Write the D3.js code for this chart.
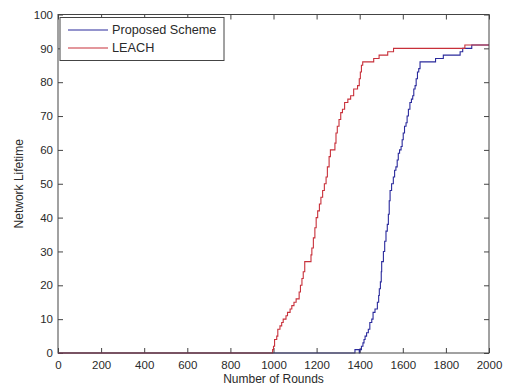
<!DOCTYPE html>
<html>
<head>
<meta charset="utf-8">
<script src="https://cdn.jsdelivr.net/npm/d3@7/dist/d3.min.js"></script>
<style>
  html, body { margin: 0; padding: 0; background: #fff; }
  svg { display: block; }
  text { font-family: "Liberation Sans", Arial, sans-serif; fill: #2a2a2a; }
</style>
</head>
<body>
<svg id="chart" width="505" height="389"></svg>
<script>
// ---- data ----
const seriesNames = ["Proposed Scheme", "LEACH"];
const seriesColors = ["#2a2a9c", "#c8303a"];

const proposedRounds = [0, 1378, 1398, 1400, 1408, 1415, 1420, 1425, 1432, 1440, 1447, 1456, 1462, 1471, 1482, 1488, 1491, 1496, 1500, 1502, 1510, 1516, 1522, 1528, 1533, 1537, 1541, 1548, 1556, 1562, 1568, 1574, 1579, 1585, 1592, 1597, 1602, 1608, 1615, 1620, 1626, 1633, 1640, 1646, 1651, 1657, 1662, 1668, 1674, 1680, 1752, 1788, 1866, 1878, 1920, 2000];
const proposedValues = [0, 1, 0, 1, 2, 3, 4, 5, 6, 7, 9, 10, 12, 13, 15, 17, 19, 21, 24, 27, 30, 33, 36, 38, 41, 45, 48, 50, 52, 54, 55, 57, 59, 60, 61, 63, 65, 67, 68, 70, 72, 74, 75, 76, 78, 79, 81, 83, 84, 86, 87, 88, 89, 90, 91, 91];

const leachRounds = [0, 996, 1000, 1005, 1015, 1020, 1030, 1038, 1045, 1058, 1065, 1077, 1085, 1095, 1105, 1119, 1125, 1132, 1138, 1145, 1174, 1178, 1185, 1192, 1198, 1205, 1213, 1220, 1228, 1236, 1244, 1250, 1258, 1264, 1285, 1290, 1296, 1304, 1312, 1320, 1330, 1345, 1358, 1372, 1390, 1398, 1403, 1408, 1414, 1465, 1490, 1530, 1557, 1888, 2000];
const leachValues = [0, 1, 2, 4, 5, 7, 8, 9, 10, 11, 12, 13, 14, 15, 16, 18, 20, 22, 24, 27, 29, 31, 34, 37, 40, 42, 44, 46, 48, 50, 52, 55, 58, 60, 62, 65, 67, 69, 71, 72, 74, 75, 76, 78, 79, 81, 83, 85, 86, 87, 88, 89, 90, 91, 91];

const xTicks = [0, 200, 400, 600, 800, 1000, 1200, 1400, 1600, 1800, 2000];
const yTicks = [0, 10, 20, 30, 40, 50, 60, 70, 80, 90, 100];
const xLabel = "Number of Rounds";
const yLabel = "Network Lifetime";

// ---- layout ----
const W = 505, H = 389;
const m = { left: 58, right: 16, top: 14.5, bottom: 36 };
const iw = W - m.left - m.right, ih = H - m.top - m.bottom;

const svg = d3.select("#chart");
const g = svg.append("g").attr("transform", `translate(${m.left},${m.top})`);

const x = d3.scaleLinear().domain([0, 2000]).range([0, iw]);
const y = d3.scaleLinear().domain([0, 100]).range([ih, 0]);

const axisColor = "#444";

// axes
const gx = g.append("g").attr("transform", `translate(0,${ih})`)
  .call(d3.axisBottom(x).tickValues(xTicks).tickSizeInner(-5).tickSizeOuter(0).tickPadding(8).tickFormat(d3.format("d")));
const gy = g.append("g")
  .call(d3.axisLeft(y).tickValues(yTicks).tickSizeInner(-5).tickSizeOuter(0).tickPadding(5).tickFormat(d3.format("d")));
const gt = g.append("g")
  .call(d3.axisTop(x).tickValues(xTicks).tickSizeInner(-5).tickSizeOuter(0).tickFormat(""));
const gr = g.append("g").attr("transform", `translate(${iw},0)`)
  .call(d3.axisRight(y).tickValues(yTicks).tickSizeInner(-5).tickSizeOuter(0).tickFormat(""));

[gx, gy, gt, gr].forEach(a => {
  a.select(".domain").remove();
  a.selectAll(".tick line").attr("stroke", axisColor);
  a.selectAll(".tick text").attr("font-size", 11.5).attr("fill", "#2a2a2a")
    .attr("font-family", "Liberation Sans, Arial, sans-serif");
});

// series
const series = [
  proposedRounds.map((r, i) => [r, proposedValues[i]]),
  leachRounds.map((r, i) => [r, leachValues[i]])
];
const line = d3.line().x(d => x(d[0])).y(d => y(d[1])).curve(d3.curveStepAfter);
series.forEach((s, i) => {
  g.append("path").datum(s)
    .attr("fill", "none")
    .attr("stroke", seriesColors[i])
    .attr("stroke-width", 1.1)
    .attr("d", line);
});

// frame
g.append("rect").attr("x", 0).attr("y", 0).attr("width", iw).attr("height", ih)
  .attr("fill", "none").attr("stroke", axisColor).attr("stroke-width", 1);

// legend
const lg = g.append("g").attr("transform", "translate(2,3)");
lg.append("rect").attr("x", 0).attr("y", 0).attr("width", 164).attr("height", 43)
  .attr("fill", "#fff").attr("stroke", axisColor).attr("stroke-width", 1);
seriesNames.forEach((name, i) => {
  const cy = 12.5 + i * 18;
  lg.append("line").attr("x1", 8).attr("x2", 48).attr("y1", cy).attr("y2", cy)
    .attr("stroke", seriesColors[i]).attr("stroke-width", 1.1);
  lg.append("text").attr("x", 52).attr("y", cy).attr("dy", "0.35em")
    .attr("font-size", 12.7).text(name);
});

// axis labels
svg.append("text").attr("x", m.left + iw / 2).attr("y", 383)
  .attr("text-anchor", "middle").attr("font-size", 12).text(xLabel);
svg.append("text").attr("transform", `translate(23,${m.top + ih / 2}) rotate(-90)`)
  .attr("text-anchor", "middle").attr("font-size", 12).text(yLabel);
</script>
</body>
</html>
